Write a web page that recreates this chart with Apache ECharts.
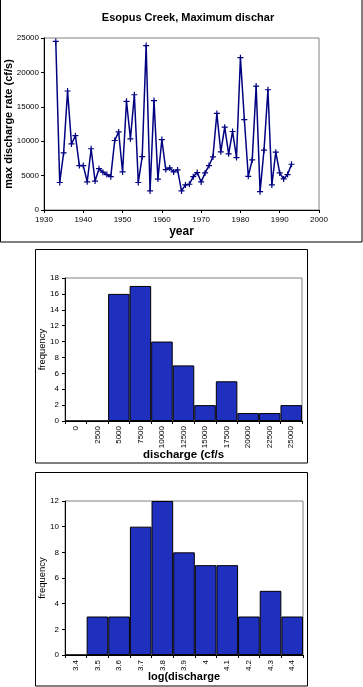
<!DOCTYPE html>
<html>
<head>
<meta charset="utf-8">
<script src="https://cdn.jsdelivr.net/npm/echarts@6/dist/echarts.min.js"></script>
<style>
html,body{margin:0;padding:0;background:#fff;}
#c{width:363px;height:687px;}
</style>
</head>
<body>
<div id="c"></div>
<script>
// ---- Data ----
const years = [1933,1934,1935,1936,1937,1938,1939,1940,1941,1942,1943,1944,1945,1946,1947,1948,1949,1950,
  1951,1952,1953,1954,1955,1956,1957,1958,1959,1960,1961,1962,1963,1964,1965,1966,1967,1968,1969,1970,
  1971,1972,1973,1974,1975,1976,1977,1978,1979,1980,1981,1982,1983,1984,1985,1986,1987,1988,1989,1990,
  1991,1992,1993];
const maxDischarge = [24500,4000,8300,17300,9600,10800,6450,6450,4100,8900,4200,6000,5500,5150,4850,10100,11350,5530,
  15800,10350,16750,4000,7770,23900,2770,15900,4500,10240,5870,6120,5530,5830,2770,3640,3740,4850,5440,4080,
  5390,6460,7720,14030,8450,12040,8160,11410,7620,22140,13150,4900,7280,18010,2670,8690,17480,3640,8400,5390,
  4510,5150,6650];

const dischargeBins = ['0','2500','5000','7500','10000','12500','15000','17500','20000','22500','25000'];
const dischargeFreq = [0,0,16,17,10,7,2,5,1,1,2];

const logBins = ['3.4','3.5','3.6','3.7','3.8','3.9','4','4.1','4.2','4.3','4.4'];
const logFreq = [0,3,3,10,12,8,7,7,3,5,3];

const yearTicks = {min:1930, max:2000, interval:10};
const dischargeTicks = {min:0, max:25000, interval:5000};

// ---- Chart ----
const FONT = '"Liberation Sans", Arial, sans-serif';
const chart = echarts.init(document.getElementById('c'), null, {renderer:'canvas'});
const lineData = years.map((y,i)=>[y, maxDischarge[i]]);
const BAR = '#1f2fbe';
const plain = v => String(v);
const tickLbl = {fontFamily:FONT, fontSize:8, color:'#000', formatter:plain};
const catLbl = {fontFamily:FONT, fontSize:8, color:'#000'};
const axisLineBlack = {show:true, lineStyle:{color:'#000', width:1}};
const plus = 'path://M-1,-5h2v4h4v2h-4v4h-2v-4h-4v-2h4z';
const gridBase = {show:true, borderColor:'#808080', borderWidth:1, backgroundColor:'#fff',
  containLabel:false, outerBoundsMode:'none'};

chart.setOption({
  animation:false,
  backgroundColor:'#fff',
  title:{
    text:'Esopus Creek, Maximum dischar',
    left:183, top:7, textAlign:'center',
    textStyle:{fontFamily:FONT, fontSize:11, fontWeight:'bold', color:'#000'}
  },
  graphic:[
    {type:'rect', shape:{x:0.5, y:-2, width:361.5, height:244}, style:{fill:'none', stroke:'#000', lineWidth:1}, silent:true, z:-1},
    {type:'rect', shape:{x:35.5, y:249.5, width:272, height:213.5}, style:{fill:'none', stroke:'#000', lineWidth:1}, silent:true, z:-1},
    {type:'rect', shape:{x:35.5, y:472.5, width:272, height:213.5}, style:{fill:'none', stroke:'#000', lineWidth:1}, silent:true, z:-1}
  ],
  grid:[
    {...gridBase, left:44, top:38, width:275, height:172},
    {...gridBase, left:65, top:278, width:237, height:143},
    {...gridBase, left:65, top:501, width:238, height:154}
  ],
  xAxis:[
    {gridIndex:0, type:'value', min:yearTicks.min, max:yearTicks.max, interval:yearTicks.interval,
     axisLine:axisLineBlack, axisTick:{show:true, length:3, lineStyle:{color:'#000'}},
     axisLabel:{...tickLbl, margin:6}, splitLine:{show:false},
     name:'year', nameLocation:'middle', nameGap:16, nameMoveOverlap:false,
     nameTextStyle:{fontFamily:FONT, fontSize:12, fontWeight:'bold', color:'#000'}},
    {gridIndex:1, type:'category', data:dischargeBins, boundaryGap:true,
     axisLine:axisLineBlack, axisTick:{show:true, length:3, lineStyle:{color:'#000'}},
     axisLabel:{...catLbl, rotate:90, margin:5, interval:0}, splitLine:{show:false},
     name:'discharge (cf/s', nameLocation:'middle', nameGap:28, nameMoveOverlap:false,
     nameTextStyle:{fontFamily:FONT, fontSize:11.5, fontWeight:'bold', color:'#000'}},
    {gridIndex:2, type:'category', data:logBins, boundaryGap:true,
     axisLine:axisLineBlack, axisTick:{show:true, length:3, lineStyle:{color:'#000'}},
     axisLabel:{...catLbl, rotate:90, margin:5, interval:0}, splitLine:{show:false},
     name:'log(discharge', nameLocation:'middle', nameGap:16, nameMoveOverlap:false,
     nameTextStyle:{fontFamily:FONT, fontSize:11, fontWeight:'bold', color:'#000'}}
  ],
  yAxis:[
    {gridIndex:0, type:'value', min:dischargeTicks.min, max:dischargeTicks.max, interval:dischargeTicks.interval,
     axisLine:axisLineBlack, axisTick:{show:true, length:3, lineStyle:{color:'#000'}},
     axisLabel:{...tickLbl, margin:5}, splitLine:{show:false},
     name:'max discharge rate (cf/s)', nameLocation:'middle', nameGap:30, nameMoveOverlap:false,
     nameTextStyle:{fontFamily:FONT, fontSize:11, fontWeight:'bold', color:'#000'}},
    {gridIndex:1, type:'value', min:0, max:18, interval:2,
     axisLine:axisLineBlack, axisTick:{show:true, length:3, lineStyle:{color:'#000'}},
     axisLabel:{...tickLbl, margin:6}, splitLine:{show:false},
     name:'frequency', nameLocation:'middle', nameGap:18, nameMoveOverlap:false,
     nameTextStyle:{fontFamily:FONT, fontSize:9.5, color:'#000'}},
    {gridIndex:2, type:'value', min:0, max:12, interval:2,
     axisLine:axisLineBlack, axisTick:{show:true, length:3, lineStyle:{color:'#000'}},
     axisLabel:{...tickLbl, margin:6}, splitLine:{show:false},
     name:'frequency', nameLocation:'middle', nameGap:18, nameMoveOverlap:false,
     nameTextStyle:{fontFamily:FONT, fontSize:9.5, color:'#000'}}
  ],
  series:[
    {type:'line', xAxisIndex:0, yAxisIndex:0, data:lineData,
     symbol:plus, symbolSize:6, showAllSymbol:true,
     lineStyle:{color:'#000080', width:1.5}, itemStyle:{color:'#000080'}},
    {type:'bar', xAxisIndex:1, yAxisIndex:1, data:dischargeFreq, barCategoryGap:'0%',
     itemStyle:{color:BAR, borderColor:'#000', borderWidth:1}},
    {type:'bar', xAxisIndex:2, yAxisIndex:2, data:logFreq, barCategoryGap:'0%',
     itemStyle:{color:BAR, borderColor:'#000', borderWidth:1}}
  ]
});
</script>
</body>
</html>
